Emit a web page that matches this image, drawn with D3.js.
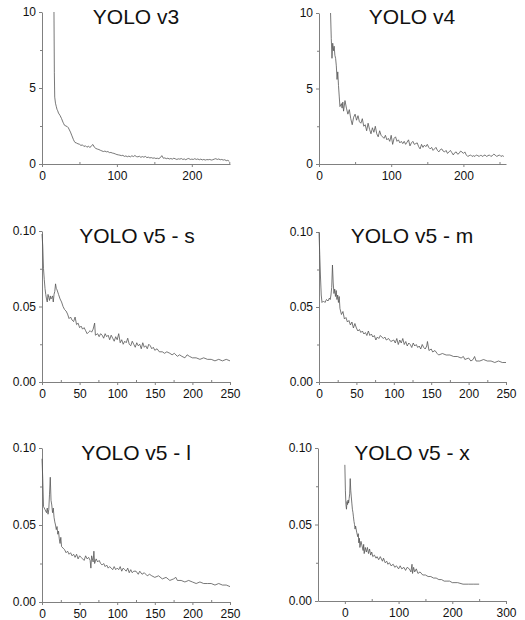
<!DOCTYPE html>
<html>
<head>
<meta charset="utf-8">
<script src="https://cdn.jsdelivr.net/npm/d3@7"></script>
<style>
  body { margin: 0; background: #fff; }
  svg { display: block; }
  .tick text { font-family: "Liberation Sans", Arial, sans-serif; font-size: 12px; fill: #111; }
  .domain, .tick line { stroke: #808080; stroke-width: 1; }
  .title { font-family: "Liberation Sans", Arial, sans-serif; font-size: 21px; fill: #111; }
  .loss { fill: none; stroke: #555; stroke-width: 0.8; }
</style>
</head>
<body>
<script>
// loss curves, [epoch, loss]
var v3Loss = [[16,10],[16.5,6],[17,4.4],[18,4.0],[19,3.8],[20,3.6],[21,3.5],[22,3.35],[24,3.2],[26,3.0],[28,2.75],[29,2.65],[30,2.55],[32,2.5],[34,2.45],[35,2.4],[36,2.3],[38,2.1],[40,1.85],[42,1.6],[43,1.5],[44,1.42],[46,1.38],[48,1.33],[50,1.3],[52,1.22],[54,1.26],[56,1.15],[58,1.2],[60,1.1],[62,1.18],[64,1.08],[66,1.2],[68,1.28],[70,1.1],[72,1.02],[74,0.98],[76,0.95],[78,0.9],[80,0.86],[82,0.82],[84,0.85],[86,0.8],[88,0.82],[90,0.75],[92,0.76],[94,0.72],[96,0.7],[98,0.66],[100,0.62],[102,0.6],[104,0.58],[106,0.55],[108,0.57],[110,0.5],[112,0.53],[114,0.48],[116,0.52],[118,0.47],[120,0.54],[122,0.49],[124,0.56],[126,0.49],[128,0.47],[130,0.51],[132,0.44],[134,0.49],[136,0.45],[138,0.5],[140,0.42],[142,0.45],[144,0.4],[146,0.42],[148,0.38],[150,0.4],[152,0.36],[154,0.38],[156,0.35],[158,0.42],[160,0.55],[162,0.38],[164,0.4],[166,0.35],[168,0.38],[170,0.33],[172,0.36],[174,0.32],[176,0.38],[178,0.34],[180,0.3],[182,0.34],[184,0.32],[186,0.36],[188,0.3],[190,0.33],[192,0.28],[194,0.34],[196,0.36],[198,0.3],[200,0.32],[202,0.3],[204,0.35],[206,0.3],[208,0.33],[210,0.28],[212,0.32],[214,0.27],[216,0.3],[218,0.26],[220,0.29],[222,0.28],[224,0.3],[226,0.26],[228,0.28],[230,0.32],[232,0.35],[234,0.3],[236,0.33],[238,0.28],[240,0.3],[242,0.26],[244,0.28],[246,0.22],[248,0.24],[250,0.18]];

var v4Loss = [[16,10],[17,8.3],[18,7.0],[19,8.0],[20,7.5],[21,7.8],[22,7.2],[23,7.0],[24,6.5],[25,5.6],[26,6.1],[27,5.2],[28,4.5],[29,3.8],[30,3.9],[31,4.0],[32,3.7],[33,4.1],[34,3.5],[36,4.2],[38,3.7],[40,3.3],[42,3.6],[44,3.0],[46,2.6],[48,3.1],[50,3.3],[52,2.9],[54,3.2],[56,2.8],[58,2.7],[60,3.0],[62,2.5],[64,2.6],[66,2.2],[68,2.7],[70,2.3],[72,2.0],[74,2.4],[76,2.1],[78,2.5],[80,2.0],[82,1.8],[84,2.2],[86,1.9],[88,1.8],[90,1.7],[92,1.9],[94,1.6],[96,1.7],[98,1.5],[100,1.9],[102,1.3],[104,1.7],[106,1.8],[108,1.5],[110,1.6],[112,1.4],[114,1.5],[116,1.35],[118,1.5],[120,1.3],[122,1.45],[124,1.6],[126,1.2],[128,1.4],[130,1.5],[132,1.3],[134,1.35],[136,1.4],[138,1.15],[140,1.0],[142,1.3],[144,1.1],[146,1.25],[148,1.15],[150,1.3],[152,1.1],[154,1.0],[156,1.1],[158,0.9],[160,1.0],[162,1.1],[164,0.9],[166,0.8],[168,0.95],[170,1.0],[172,0.85],[174,0.8],[176,0.9],[178,0.7],[180,0.8],[182,0.9],[184,0.75],[186,0.6],[188,0.75],[190,0.8],[192,0.65],[194,0.7],[196,0.85],[198,0.8],[200,0.7],[202,0.8],[204,0.6],[206,0.5],[208,0.55],[210,0.6],[212,0.5],[214,0.55],[216,0.5],[218,0.6],[220,0.55],[222,0.5],[224,0.6],[226,0.5],[228,0.55],[230,0.6],[232,0.5],[234,0.55],[236,0.6],[238,0.5],[240,0.55],[242,0.65],[244,0.6],[246,0.5],[248,0.55],[250,0.6],[252,0.5],[254,0.55],[256,0.5]];

var v5sLoss = [[0,0.098],[1,0.09],[2,0.075],[3,0.068],[4,0.062],[5,0.058],[6,0.055],[7,0.053],[8,0.058],[9,0.056],[10,0.054],[11,0.057],[12,0.055],[13,0.056],[14,0.057],[15,0.053],[16,0.058],[17,0.06],[18,0.065],[19,0.062],[20,0.061],[22,0.058],[24,0.055],[26,0.053],[28,0.05],[30,0.048],[32,0.047],[34,0.045],[36,0.042],[38,0.043],[40,0.041],[42,0.04],[44,0.043],[46,0.038],[48,0.039],[50,0.036],[52,0.037],[54,0.035],[56,0.036],[58,0.034],[60,0.032],[62,0.033],[64,0.034],[66,0.033],[68,0.035],[70,0.039],[71,0.031],[74,0.032],[76,0.03],[78,0.032],[80,0.031],[82,0.029],[84,0.032],[86,0.03],[88,0.031],[90,0.028],[92,0.031],[94,0.029],[96,0.027],[98,0.03],[100,0.028],[102,0.032],[104,0.026],[106,0.028],[108,0.025],[110,0.027],[112,0.026],[114,0.029],[116,0.025],[118,0.024],[120,0.027],[122,0.025],[124,0.023],[126,0.026],[128,0.024],[130,0.025],[132,0.022],[134,0.026],[136,0.023],[138,0.024],[140,0.022],[142,0.025],[144,0.024],[146,0.022],[148,0.023],[150,0.021],[153,0.022],[156,0.02],[160,0.02],[163,0.019],[166,0.02],[170,0.019],[173,0.018],[176,0.019],[180,0.017],[183,0.018],[186,0.017],[190,0.016],[193,0.018],[196,0.017],[200,0.016],[205,0.016],[210,0.015],[215,0.016],[220,0.015],[225,0.015],[230,0.014],[235,0.015],[240,0.014],[245,0.015],[250,0.014]];

var v5mLoss = [[0,0.1],[1,0.085],[2,0.07],[3,0.058],[4,0.053],[6,0.054],[8,0.053],[10,0.055],[12,0.054],[14,0.056],[15,0.055],[16,0.058],[17,0.063],[18,0.078],[19,0.066],[20,0.059],[21,0.062],[22,0.057],[23,0.061],[24,0.055],[25,0.058],[26,0.053],[27,0.057],[28,0.049],[30,0.045],[32,0.047],[34,0.042],[36,0.043],[38,0.04],[40,0.041],[42,0.038],[44,0.04],[46,0.036],[48,0.039],[50,0.036],[52,0.034],[54,0.035],[56,0.033],[58,0.034],[60,0.032],[62,0.033],[64,0.031],[66,0.034],[68,0.031],[70,0.032],[72,0.03],[74,0.031],[76,0.028],[78,0.03],[80,0.029],[82,0.031],[84,0.03],[86,0.029],[88,0.03],[90,0.028],[93,0.029],[96,0.027],[100,0.028],[102,0.026],[104,0.029],[106,0.025],[108,0.028],[110,0.026],[112,0.029],[114,0.025],[116,0.027],[118,0.024],[120,0.026],[122,0.025],[124,0.023],[126,0.026],[128,0.024],[130,0.025],[132,0.023],[134,0.024],[136,0.022],[138,0.025],[140,0.023],[142,0.022],[144,0.024],[145,0.027],[147,0.021],[150,0.022],[152,0.02],[155,0.021],[158,0.019],[160,0.018],[165,0.019],[170,0.018],[175,0.018],[180,0.017],[185,0.017],[190,0.016],[193,0.017],[195,0.015],[200,0.016],[203,0.014],[206,0.015],[208,0.017],[210,0.014],[215,0.014],[220,0.015],[225,0.014],[230,0.014],[235,0.013],[240,0.014],[245,0.013],[250,0.013]];

var v5lLoss = [[0,0.093],[1,0.08],[2,0.062],[4,0.06],[6,0.058],[7,0.061],[8,0.057],[9,0.06],[10,0.07],[11,0.081],[12,0.066],[13,0.063],[14,0.058],[15,0.061],[16,0.055],[17,0.052],[18,0.05],[19,0.047],[20,0.049],[21,0.044],[22,0.046],[23,0.041],[24,0.038],[25,0.042],[26,0.036],[28,0.035],[30,0.034],[32,0.032],[34,0.033],[36,0.031],[38,0.032],[40,0.03],[42,0.031],[44,0.029],[46,0.031],[48,0.028],[50,0.03],[52,0.029],[54,0.028],[56,0.027],[58,0.03],[60,0.028],[62,0.029],[64,0.027],[65,0.022],[66,0.03],[68,0.026],[69,0.033],[70,0.025],[72,0.028],[74,0.026],[76,0.027],[78,0.025],[80,0.024],[82,0.025],[84,0.023],[86,0.024],[88,0.022],[90,0.023],[92,0.022],[94,0.021],[96,0.023],[98,0.021],[100,0.022],[102,0.021],[104,0.023],[106,0.02],[108,0.022],[110,0.021],[112,0.02],[114,0.022],[116,0.019],[118,0.021],[120,0.019],[122,0.02],[125,0.02],[128,0.018],[130,0.02],[133,0.018],[136,0.019],[140,0.017],[143,0.018],[146,0.017],[150,0.016],[155,0.017],[160,0.015],[165,0.016],[170,0.014],[175,0.015],[178,0.016],[180,0.014],[185,0.014],[190,0.013],[195,0.014],[200,0.013],[205,0.012],[210,0.013],[215,0.012],[220,0.012],[225,0.012],[230,0.011],[235,0.012],[240,0.011],[245,0.011],[250,0.01]];

var v5xLoss = [[0,0.089],[1,0.072],[2,0.063],[3,0.06],[4,0.065],[5,0.063],[6,0.066],[7,0.064],[8,0.067],[9,0.07],[10,0.08],[11,0.072],[12,0.068],[13,0.064],[14,0.06],[15,0.058],[16,0.055],[17,0.052],[18,0.05],[19,0.047],[20,0.049],[22,0.045],[24,0.042],[25,0.044],[26,0.038],[27,0.041],[28,0.035],[30,0.039],[32,0.036],[34,0.033],[35,0.037],[36,0.031],[38,0.035],[40,0.032],[42,0.035],[44,0.031],[46,0.034],[48,0.03],[50,0.032],[52,0.029],[55,0.03],[58,0.028],[60,0.029],[63,0.027],[66,0.029],[70,0.026],[72,0.028],[75,0.025],[78,0.026],[80,0.024],[83,0.025],[86,0.023],[90,0.024],[93,0.022],[96,0.023],[100,0.021],[103,0.023],[106,0.021],[110,0.022],[113,0.02],[116,0.022],[120,0.021],[123,0.019],[125,0.024],[126,0.018],[128,0.022],[130,0.019],[133,0.021],[136,0.018],[140,0.019],[145,0.017],[150,0.017],[155,0.016],[160,0.016],[165,0.015],[170,0.015],[175,0.014],[180,0.014],[185,0.013],[190,0.013],[195,0.013],[200,0.012],[210,0.012],[220,0.011],[230,0.011],[240,0.011],[250,0.011]];

var titles = ["YOLO v3", "YOLO v4", "YOLO v5 - s", "YOLO v5 - m", "YOLO v5 - l", "YOLO v5 - x"];
var series = [v3Loss, v4Loss, v5sLoss, v5mLoss, v5lLoss, v5xLoss];

var xTicks100 = [0, 100, 200];
var xMinor100 = [50, 150, 250];
var xTicks50 = [0, 50, 100, 150, 200, 250];
var xMinor50 = [25, 75, 125, 175, 225];
var xTicksX = [0, 100, 200, 300];
var xMinorX = [-50, 50, 150, 250];
var yTicksBig = [0, 5, 10];
var yMinorBig = [2.5, 7.5];
var yTicksSmall = [0, 0.05, 0.1];
var yMinorSmall = [0.025, 0.075];

// panel boxes in pixels: left, right, top, bottom
var layout = [
  { l: 42,  r: 230, t: 12,  b: 164, xd: [0, 251], yd: [0, 10],  xt: xTicks100, xm: xMinor100, yt: yTicksBig,   ym: yMinorBig,   fmt: d3.format("d") },
  { l: 319, r: 506, t: 13,  b: 164, xd: [0, 259], yd: [0, 10],  xt: xTicks100, xm: xMinor100, yt: yTicksBig,   ym: yMinorBig,   fmt: d3.format("d") },
  { l: 42,  r: 230, t: 231, b: 382, xd: [0, 250], yd: [0, 0.1], xt: xTicks50,  xm: xMinor50,  yt: yTicksSmall, ym: yMinorSmall, fmt: d3.format(".2f") },
  { l: 319, r: 506, t: 232, b: 382, xd: [0, 250], yd: [0, 0.1], xt: xTicks50,  xm: xMinor50,  yt: yTicksSmall, ym: yMinorSmall, fmt: d3.format(".2f") },
  { l: 42,  r: 230, t: 448, b: 602, xd: [0, 250], yd: [0, 0.1], xt: xTicks50,  xm: xMinor50,  yt: yTicksSmall, ym: yMinorSmall, fmt: d3.format(".2f") },
  { l: 318, r: 506, t: 448, b: 601, xd: [-50, 300], yd: [0, 0.1], xt: xTicksX, xm: xMinorX,   yt: yTicksSmall, ym: yMinorSmall, fmt: d3.format(".2f") }
];
var titlePos = [[136, 24], [412, 24], [137, 243], [412, 243], [136, 460], [412, 460]];

var svg = d3.select("body").append("svg")
    .attr("width", 525)
    .attr("height", 620);

layout.forEach(function(p, i) {
  var x = d3.scaleLinear().domain(p.xd).range([p.l, p.r]);
  var y = d3.scaleLinear().domain(p.yd).range([p.b, p.t]);
  var g = svg.append("g");

  // minor ticks first, no labels
  g.append("g")
      .attr("transform", "translate(0," + p.b + ")")
      .call(d3.axisBottom(x).tickValues(p.xm).tickSize(-2).tickSizeOuter(0).tickFormat(""))
      .select(".domain").remove();
  g.append("g")
      .attr("transform", "translate(" + p.l + ",0)")
      .call(d3.axisLeft(y).tickValues(p.ym).tickSize(2).tickSizeOuter(0).tickFormat(""))
      .select(".domain").remove();

  g.append("g")
      .attr("transform", "translate(0," + p.b + ")")
      .call(d3.axisBottom(x).tickValues(p.xt).tickSize(3).tickSizeOuter(0).tickPadding(4));
  g.append("g")
      .attr("transform", "translate(" + p.l + ",0)")
      .call(d3.axisLeft(y).tickValues(p.yt).tickSize(3).tickSizeOuter(0).tickPadding(3).tickFormat(p.fmt));

  var line = d3.line()
      .x(function(d) { return x(d[0]); })
      .y(function(d) { return y(d[1]); });

  g.append("path")
      .datum(series[i])
      .attr("class", "loss")
      .attr("d", line);

  g.append("text")
      .attr("class", "title")
      .attr("x", titlePos[i][0])
      .attr("y", titlePos[i][1])
      .attr("text-anchor", "middle")
      .text(titles[i]);
});
</script>
</body>
</html>
